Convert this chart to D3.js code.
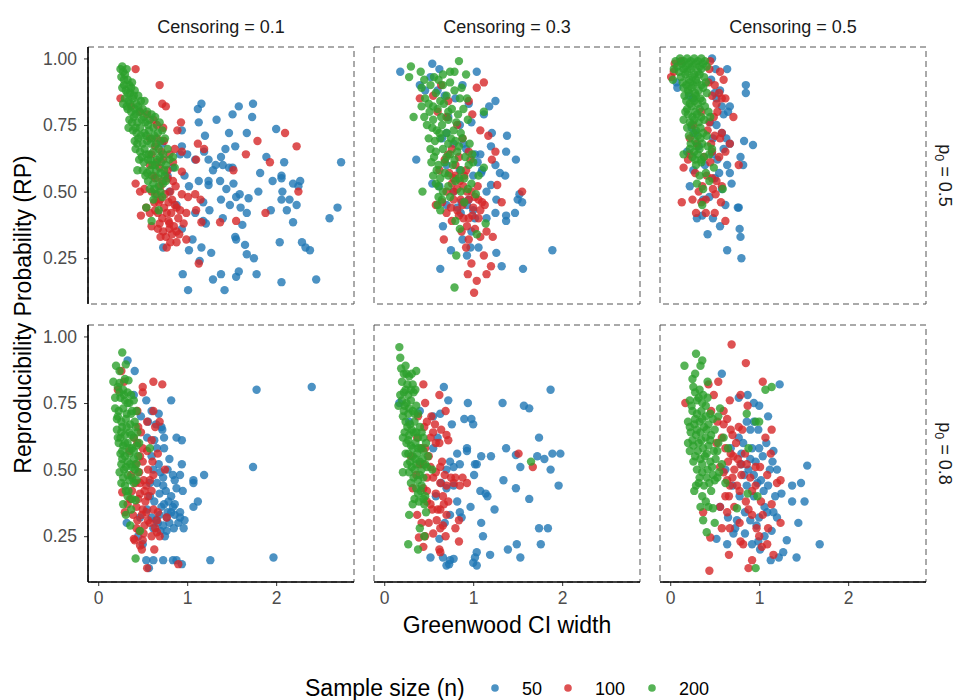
<!DOCTYPE html>
<html>
<head>
<meta charset="utf-8">
<script src="https://cdn.jsdelivr.net/npm/d3@7/dist/d3.min.js"></script>
<style>
  body { margin: 0; background: #fff; }
  text { font-family: "Liberation Sans", Arial, sans-serif; }
</style>
</head>
<body>
<div id="chart-area"></div>
<script>
// facet labels and groups
var censoring = ['0.1', '0.3', '0.5'];
var p0Levels = ['0.5', '0.8'];
var sampleSizes = ['50', '100', '200'];
var xTicks = [0, 1, 2];
var yTicks = [0.25, 0.50, 0.75, 1.00];

// [CI width, RP], one array per panel and sample size
var c1_p5_n50 = [[1.16,0.83],[1.12,0.81],[1.58,0.82],[1.74,0.83],[1.51,0.79],[1.73,0.78],[1.33,0.77],[1.13,0.76],[2.00,0.735],[1.47,0.72],[1.67,0.72],[1.20,0.71],[0.94,0.73],[0.94,0.67],[1.54,0.67],[1.43,0.66],[1.19,0.65],[1.89,0.63],[1.38,0.63],[1.00,0.64],[1.24,0.62],[2.73,0.61],[2.09,0.61],[1.32,0.60],[1.40,0.60],[1.47,0.59],[1.29,0.58],[1.51,0.59],[1.82,0.57],[2.06,0.56],[1.96,0.54],[2.06,0.55],[2.27,0.54],[2.19,0.53],[2.25,0.52],[1.13,0.54],[1.24,0.54],[1.37,0.54],[1.52,0.53],[1.02,0.52],[1.24,0.525],[1.44,0.51],[1.80,0.50],[2.07,0.50],[1.55,0.48],[1.59,0.49],[1.69,0.475],[1.38,0.47],[2.06,0.47],[2.15,0.47],[2.23,0.45],[1.48,0.45],[1.60,0.44],[1.25,0.43],[1.67,0.42],[2.12,0.43],[1.94,0.43],[2.69,0.44],[2.60,0.40],[2.19,0.385],[1.40,0.40],[1.18,0.39],[1.62,0.375],[0.94,0.36],[1.54,0.33],[1.55,0.32],[1.06,0.32],[2.04,0.31],[2.29,0.31],[2.33,0.29],[2.38,0.28],[1.65,0.30],[1.16,0.29],[0.73,0.29],[1.02,0.28],[1.27,0.27],[1.67,0.265],[1.75,0.25],[1.14,0.24],[0.95,0.19],[1.58,0.20],[1.78,0.19],[1.38,0.19],[1.29,0.17],[1.55,0.18],[2.06,0.16],[2.45,0.17],[1.01,0.13],[1.42,0.13],[0.92,0.64],[0.84,0.59],[1.09,0.62],[0.97,0.56],[1.18,0.46],[1.09,0.42],[1.21,0.38],[0.88,0.45],[0.80,0.50],[0.72,0.68],[0.78,0.56]];
var c1_p5_n100 = [[0.42,0.96],[0.69,0.90],[0.25,0.85],[0.72,0.83],[0.76,0.82],[0.93,0.76],[0.89,0.73],[0.73,0.74],[2.10,0.72],[1.79,0.69],[2.23,0.67],[1.12,0.68],[1.19,0.66],[1.66,0.64],[0.86,0.66],[0.94,0.65],[1.10,0.62],[1.93,0.61],[1.52,0.58],[0.94,0.575],[2.25,0.50],[0.42,0.53],[0.52,0.51],[0.84,0.54],[0.94,0.49],[1.01,0.48],[1.09,0.49],[1.15,0.47],[0.83,0.47],[0.54,0.44],[0.63,0.46],[0.88,0.44],[0.92,0.43],[0.99,0.42],[1.10,0.43],[1.88,0.42],[0.48,0.41],[0.67,0.42],[0.79,0.39],[0.96,0.38],[1.16,0.385],[1.37,0.385],[1.55,0.39],[0.67,0.36],[0.80,0.36],[0.83,0.34],[0.91,0.34],[0.99,0.32],[0.88,0.31],[0.77,0.29],[1.13,0.23],[0.37,0.82],[0.47,0.80],[0.55,0.79],[0.62,0.77],[0.66,0.75],[0.58,0.70],[0.66,0.70],[0.74,0.69],[0.64,0.67],[0.71,0.65],[0.80,0.64],[0.58,0.60],[0.69,0.59],[0.78,0.58],[0.84,0.61],[0.64,0.55],[0.78,0.55],[0.70,0.52],[0.87,0.52],[0.60,0.50],[0.75,0.49],[0.68,0.46],[0.74,0.44],[0.82,0.42],[0.72,0.40],[0.85,0.37],[0.76,0.33],[0.58,0.42],[0.47,0.50],[0.60,0.64],[0.66,0.61],[0.73,0.62],[0.62,0.56],[0.72,0.54],[0.81,0.50],[0.66,0.49],[0.70,0.47],[0.79,0.46],[0.86,0.45],[0.64,0.43],[0.77,0.42],[0.69,0.38],[0.80,0.38],[0.73,0.35],[0.88,0.35],[0.81,0.31],[0.70,0.33],[0.90,0.40],[0.60,0.37]];
var c1_p5_n200 = [[0.27,0.97],[0.28,0.95],[0.26,0.93],[0.30,0.94],[0.33,0.92],[0.29,0.90],[0.35,0.90],[0.38,0.91],[0.31,0.88],[0.36,0.87],[0.41,0.88],[0.45,0.86],[0.30,0.85],[0.34,0.84],[0.39,0.85],[0.43,0.83],[0.48,0.84],[0.52,0.84],[0.33,0.81],[0.37,0.80],[0.41,0.81],[0.46,0.80],[0.50,0.81],[0.55,0.80],[0.60,0.79],[0.35,0.77],[0.40,0.78],[0.44,0.76],[0.49,0.77],[0.53,0.76],[0.58,0.77],[0.64,0.78],[0.69,0.76],[0.34,0.74],[0.39,0.73],[0.43,0.72],[0.47,0.74],[0.52,0.72],[0.57,0.73],[0.62,0.74],[0.67,0.72],[0.72,0.73],[0.41,0.69],[0.45,0.70],[0.50,0.68],[0.55,0.69],[0.60,0.70],[0.65,0.68],[0.70,0.69],[0.75,0.70],[0.42,0.66],[0.47,0.65],[0.52,0.66],[0.57,0.64],[0.62,0.65],[0.68,0.66],[0.73,0.64],[0.78,0.66],[0.46,0.62],[0.51,0.61],[0.56,0.62],[0.61,0.60],[0.66,0.62],[0.71,0.61],[0.76,0.60],[0.84,0.63],[0.86,0.59],[0.50,0.58],[0.55,0.57],[0.60,0.56],[0.65,0.58],[0.70,0.57],[0.75,0.56],[0.56,0.54],[0.62,0.53],[0.68,0.52],[0.73,0.53],[0.58,0.51],[0.64,0.49],[0.70,0.50],[0.72,0.48],[0.62,0.47],[0.54,0.44],[0.60,0.39],[0.68,0.43],[0.53,0.56],[0.44,0.58],[0.25,0.96],[0.29,0.92],[0.32,0.96],[0.27,0.89],[0.33,0.87],[0.37,0.89],[0.40,0.86],[0.28,0.83],[0.32,0.82],[0.36,0.83],[0.42,0.79],[0.38,0.76],[0.45,0.82],[0.51,0.78],[0.56,0.75],[0.42,0.74],[0.48,0.71],[0.54,0.71],[0.59,0.68],[0.63,0.71],[0.44,0.68],[0.49,0.63],[0.54,0.64],[0.59,0.62],[0.64,0.60],[0.69,0.63],[0.74,0.58],[0.58,0.58],[0.67,0.55],[0.63,0.51],[0.76,0.54],[0.80,0.62]];

var c3_p5_n50 = [[0.18,0.95],[0.54,0.98],[0.62,0.96],[1.04,0.95],[0.46,0.88],[1.25,0.84],[1.18,0.82],[1.12,0.79],[1.21,0.72],[1.38,0.71],[1.20,0.67],[1.37,0.65],[1.48,0.62],[0.36,0.62],[1.25,0.60],[1.30,0.57],[1.36,0.56],[1.09,0.57],[1.20,0.525],[1.15,0.50],[1.50,0.47],[1.55,0.46],[1.52,0.49],[1.26,0.47],[1.47,0.42],[1.37,0.41],[1.25,0.42],[1.37,0.39],[1.15,0.40],[0.54,0.53],[0.66,0.37],[0.88,0.32],[0.75,0.28],[0.97,0.29],[1.06,0.29],[1.26,0.27],[1.89,0.28],[0.63,0.21],[1.32,0.22],[1.56,0.21],[0.87,0.46],[0.93,0.45],[0.82,0.44],[1.00,0.43],[1.02,0.40],[0.86,0.42],[1.10,0.58],[1.05,0.61],[1.08,0.64],[0.89,0.68],[0.70,0.72],[0.40,0.90],[0.52,0.93],[0.60,0.88],[0.68,0.86],[0.80,0.85],[0.88,0.90],[0.95,0.83],[0.72,0.78],[0.85,0.75],[0.98,0.76],[0.65,0.70],[0.78,0.68],[0.92,0.66],[1.02,0.64],[0.70,0.60],[0.85,0.58],[1.00,0.56],[0.62,0.52],[0.78,0.50],[0.95,0.47],[0.70,0.45],[0.98,0.35],[0.93,0.26]];
var c3_p5_n100 = [[1.12,0.91],[1.04,0.89],[0.40,0.85],[0.72,0.84],[0.95,0.84],[0.99,0.79],[1.08,0.73],[1.17,0.71],[1.25,0.65],[1.21,0.62],[0.95,0.65],[0.97,0.62],[0.73,0.57],[0.80,0.56],[0.85,0.54],[0.89,0.52],[0.93,0.50],[0.98,0.50],[1.02,0.48],[1.06,0.47],[1.10,0.46],[1.13,0.45],[1.27,0.525],[1.55,0.50],[1.32,0.46],[0.58,0.45],[0.65,0.46],[0.70,0.42],[0.82,0.43],[0.89,0.40],[0.95,0.40],[1.06,0.40],[0.93,0.37],[1.02,0.36],[1.15,0.35],[1.22,0.33],[0.67,0.32],[0.95,0.32],[1.12,0.26],[0.98,0.23],[1.20,0.22],[1.15,0.19],[0.94,0.19],[1.04,0.165],[1.01,0.12],[0.60,0.80],[0.70,0.78],[0.82,0.75],[0.88,0.70],[0.76,0.66],[0.84,0.63],[0.68,0.62],[0.62,0.58],[0.78,0.50],[0.86,0.47],[0.76,0.53],[0.55,0.86],[0.64,0.90],[0.72,0.64],[0.80,0.60],[0.92,0.58],[0.78,0.55],[0.90,0.56],[0.82,0.51],[0.95,0.47],[0.88,0.45],[1.00,0.44],[0.75,0.44],[0.84,0.41],[0.99,0.41],[1.08,0.43],[0.76,0.39],[0.87,0.35],[1.08,0.33],[0.78,0.47],[0.70,0.50],[1.05,0.52],[0.92,0.29]];
var c3_p5_n200 = [[0.84,0.99],[0.30,0.97],[0.41,0.95],[0.28,0.93],[0.74,0.95],[0.79,0.95],[0.92,0.94],[0.61,0.92],[0.56,0.93],[0.66,0.94],[0.42,0.89],[0.87,0.89],[0.66,0.90],[0.79,0.88],[0.70,0.86],[0.85,0.85],[0.93,0.85],[0.63,0.84],[0.50,0.83],[0.42,0.82],[0.51,0.80],[0.60,0.81],[0.67,0.83],[0.76,0.81],[0.89,0.81],[0.33,0.78],[1.12,0.80],[0.45,0.78],[0.55,0.77],[0.64,0.78],[0.72,0.77],[0.81,0.76],[0.94,0.77],[0.54,0.74],[0.59,0.73],[0.65,0.75],[0.70,0.72],[0.78,0.73],[0.86,0.72],[0.50,0.70],[0.57,0.69],[0.63,0.70],[0.72,0.68],[0.80,0.69],[0.88,0.70],[0.96,0.68],[0.52,0.66],[0.58,0.65],[0.66,0.66],[0.74,0.64],[0.82,0.65],[0.91,0.63],[0.99,0.64],[0.53,0.61],[0.61,0.60],[0.68,0.61],[0.77,0.60],[0.86,0.58],[1.00,0.61],[1.12,0.59],[0.55,0.56],[0.63,0.55],[0.72,0.56],[0.80,0.54],[0.90,0.55],[0.98,0.53],[0.43,0.50],[0.61,0.52],[0.66,0.50],[0.94,0.51],[0.61,0.48],[0.60,0.45],[0.63,0.43],[0.80,0.39],[0.85,0.36],[1.04,0.34],[1.14,0.38],[0.81,0.26],[0.79,0.14],[1.03,0.49],[0.74,0.48],[0.45,0.92],[0.52,0.90],[0.58,0.87],[0.74,0.91],[0.46,0.85],[0.55,0.82],[0.72,0.80],[0.83,0.79],[0.48,0.75],[0.62,0.72],[0.75,0.70],[0.84,0.67],[0.56,0.63],[0.70,0.63],[0.79,0.62],[0.95,0.60],[0.59,0.58],[0.68,0.57],[0.84,0.55],[0.58,0.53],[0.72,0.52],[0.86,0.50],[0.65,0.47],[0.90,0.46],[1.06,0.56]];

var c5_p5_n50 = [[0.64,0.96],[0.85,0.90],[0.85,0.87],[0.67,0.82],[0.60,0.79],[0.65,0.80],[0.83,0.69],[0.93,0.675],[0.63,0.70],[0.67,0.68],[0.79,0.63],[0.82,0.60],[0.64,0.60],[0.67,0.57],[0.69,0.53],[0.58,0.51],[0.22,0.52],[0.76,0.44],[0.77,0.44],[0.56,0.37],[0.78,0.36],[0.79,0.33],[0.42,0.34],[0.64,0.28],[0.80,0.25],[0.37,0.47],[0.36,0.41],[0.07,0.91],[0.08,0.89],[0.21,0.86],[0.26,0.85],[0.52,0.85],[0.56,0.88],[0.51,0.96],[0.47,1.00],[0.24,0.74],[0.28,0.72],[0.45,0.76],[0.52,0.75],[0.58,0.72],[0.19,0.65],[0.32,0.67],[0.47,0.64],[0.53,0.62],[0.39,0.60],[0.26,0.58],[0.55,0.57],[0.46,0.92],[0.50,0.87],[0.58,0.82],[0.48,0.70],[0.60,0.66],[0.50,0.55],[0.44,0.48],[0.62,0.45],[0.30,0.40],[0.48,0.40]];
var c5_p5_n100 = [[0.01,0.93],[0.04,0.95],[0.44,0.96],[0.56,0.95],[0.60,0.92],[0.55,0.87],[0.58,0.85],[0.62,0.85],[0.71,0.78],[0.26,0.75],[0.49,0.78],[0.58,0.72],[0.22,0.70],[0.56,0.70],[0.67,0.68],[0.15,0.59],[0.28,0.57],[0.77,0.60],[0.47,0.55],[0.52,0.54],[0.36,0.52],[0.58,0.52],[0.13,0.46],[0.32,0.50],[0.51,0.49],[0.29,0.42],[0.40,0.42],[0.50,0.42],[0.62,0.39],[0.62,0.65],[0.38,0.63],[0.45,0.61],[0.05,0.98],[0.12,0.99],[0.45,0.99],[0.50,0.90],[0.30,0.68],[0.42,0.73],[0.40,0.47],[0.25,0.47],[0.47,0.65],[0.20,0.62],[0.53,0.80],[0.35,0.80],[0.43,0.91],[0.47,0.86],[0.52,0.83],[0.44,0.76],[0.50,0.71],[0.46,0.68],[0.55,0.63],[0.41,0.56],[0.48,0.51],[0.35,0.46],[0.57,0.46],[0.22,0.64]];
var c5_p5_n200 = [[0.06,0.99],[0.11,1.00],[0.15,0.99],[0.19,1.00],[0.23,0.99],[0.27,1.00],[0.31,0.99],[0.35,1.00],[0.39,0.99],[0.08,0.97],[0.13,0.98],[0.17,0.97],[0.21,0.98],[0.25,0.97],[0.29,0.98],[0.33,0.97],[0.37,0.98],[0.41,0.97],[0.04,0.96],[0.10,0.95],[0.15,0.96],[0.19,0.95],[0.23,0.96],[0.27,0.94],[0.31,0.95],[0.35,0.96],[0.12,0.93],[0.17,0.94],[0.21,0.92],[0.25,0.93],[0.29,0.92],[0.33,0.94],[0.38,0.93],[0.03,0.92],[0.14,0.91],[0.18,0.90],[0.22,0.91],[0.26,0.90],[0.30,0.91],[0.35,0.90],[0.40,0.91],[0.15,0.89],[0.20,0.88],[0.24,0.89],[0.28,0.87],[0.32,0.88],[0.37,0.89],[0.16,0.86],[0.21,0.87],[0.25,0.85],[0.29,0.86],[0.34,0.85],[0.41,0.87],[0.18,0.84],[0.22,0.83],[0.27,0.84],[0.31,0.83],[0.36,0.84],[0.19,0.81],[0.24,0.82],[0.28,0.80],[0.33,0.81],[0.39,0.82],[0.20,0.79],[0.25,0.78],[0.30,0.79],[0.35,0.78],[0.43,0.80],[0.17,0.80],[0.22,0.76],[0.27,0.77],[0.32,0.76],[0.38,0.77],[0.19,0.74],[0.24,0.75],[0.29,0.73],[0.34,0.74],[0.45,0.78],[0.15,0.77],[0.26,0.72],[0.31,0.71],[0.37,0.72],[0.21,0.71],[0.28,0.69],[0.34,0.70],[0.41,0.71],[0.23,0.68],[0.30,0.67],[0.36,0.68],[0.22,0.66],[0.27,0.65],[0.33,0.66],[0.42,0.67],[0.25,0.63],[0.31,0.64],[0.38,0.63],[0.47,0.66],[0.28,0.62],[0.35,0.61],[0.44,0.64],[0.15,0.64],[0.29,0.60],[0.49,0.59],[0.35,0.62],[0.30,0.53],[0.44,0.54],[0.37,0.51],[0.59,0.51],[0.36,0.45],[0.40,0.57],[0.33,0.56]];

var c1_p8_n50 = [[0.33,0.91],[0.41,0.87],[1.78,0.80],[2.40,0.81],[0.82,0.76],[0.54,0.76],[0.60,0.72],[0.68,0.71],[0.65,0.67],[0.71,0.66],[0.72,0.65],[0.74,0.62],[0.88,0.62],[0.94,0.61],[0.74,0.58],[0.66,0.58],[0.94,0.52],[1.74,0.51],[1.19,0.48],[1.07,0.46],[1.07,0.45],[0.92,0.48],[0.84,0.48],[0.73,0.47],[0.88,0.43],[0.95,0.42],[0.73,0.44],[0.79,0.38],[1.12,0.38],[1.07,0.36],[0.84,0.36],[0.92,0.34],[0.86,0.33],[0.77,0.32],[0.69,0.33],[0.65,0.31],[0.80,0.30],[0.92,0.32],[0.97,0.31],[0.96,0.28],[0.75,0.25],[0.32,0.30],[0.47,0.32],[0.54,0.16],[0.62,0.16],[0.73,0.16],[0.84,0.16],[0.88,0.16],[0.94,0.145],[1.26,0.16],[1.97,0.17],[0.57,0.13],[0.60,0.55],[0.62,0.50],[0.66,0.45],[0.58,0.40],[0.55,0.35],[0.62,0.28],[0.70,0.27],[0.45,0.25],[0.50,0.22],[0.55,0.62],[0.80,0.54],[0.68,0.52],[0.82,0.34],[0.74,0.37],[0.40,0.78],[0.48,0.70],[0.58,0.45],[0.63,0.38],[0.69,0.41],[0.76,0.42],[0.82,0.40],[0.71,0.36],[0.78,0.34],[0.86,0.37],[0.90,0.30],[0.67,0.30],[0.73,0.29],[0.85,0.28],[0.77,0.27],[0.60,0.32],[0.70,0.49],[0.78,0.50],[0.86,0.46],[0.63,0.61],[0.56,0.68]];
var c1_p8_n100 = [[0.26,0.87],[0.62,0.83],[0.72,0.82],[0.50,0.81],[0.50,0.79],[0.22,0.80],[0.29,0.83],[0.62,0.72],[0.69,0.68],[0.64,0.66],[0.60,0.61],[0.75,0.50],[0.67,0.56],[0.61,0.53],[0.56,0.50],[0.62,0.48],[0.51,0.46],[0.54,0.44],[0.47,0.41],[0.27,0.415],[0.36,0.39],[0.43,0.36],[0.50,0.35],[0.54,0.34],[0.62,0.35],[0.67,0.34],[0.77,0.32],[0.64,0.28],[0.66,0.265],[0.69,0.25],[0.41,0.235],[0.50,0.235],[0.40,0.24],[0.47,0.215],[0.49,0.20],[0.63,0.20],[0.55,0.13],[0.90,0.145],[0.44,0.31],[0.52,0.29],[0.47,0.55],[0.42,0.52],[0.50,0.58],[0.40,0.62],[0.45,0.66],[0.44,0.72],[0.37,0.48],[0.33,0.37],[0.30,0.34],[0.56,0.40],[0.58,0.30],[0.46,0.27],[0.42,0.45],[0.35,0.57],[0.55,0.68],[0.48,0.64],[0.44,0.60],[0.50,0.53],[0.55,0.57],[0.46,0.49],[0.52,0.42],[0.58,0.46],[0.45,0.39],[0.49,0.33],[0.56,0.31],[0.43,0.28],[0.51,0.26],[0.60,0.25],[0.39,0.33],[0.47,0.45],[0.53,0.38],[0.60,0.42],[0.38,0.42],[0.66,0.31]];
var c1_p8_n200 = [[0.27,0.94],[0.20,0.89],[0.31,0.895],[0.24,0.87],[0.17,0.83],[0.24,0.825],[0.30,0.84],[0.34,0.835],[0.22,0.81],[0.28,0.80],[0.33,0.79],[0.37,0.78],[0.25,0.77],[0.30,0.76],[0.35,0.75],[0.40,0.76],[0.19,0.73],[0.23,0.72],[0.28,0.73],[0.32,0.71],[0.38,0.72],[0.43,0.72],[0.21,0.69],[0.26,0.68],[0.31,0.69],[0.36,0.67],[0.41,0.68],[0.21,0.65],[0.26,0.64],[0.30,0.63],[0.35,0.64],[0.40,0.62],[0.44,0.64],[0.23,0.60],[0.28,0.59],[0.33,0.60],[0.38,0.58],[0.43,0.59],[0.58,0.58],[0.25,0.56],[0.30,0.55],[0.35,0.56],[0.40,0.54],[0.45,0.55],[0.26,0.52],[0.31,0.51],[0.36,0.52],[0.41,0.50],[0.24,0.49],[0.28,0.47],[0.33,0.48],[0.38,0.47],[0.43,0.46],[0.30,0.44],[0.34,0.42],[0.28,0.37],[0.33,0.40],[0.38,0.39],[0.42,0.385],[0.37,0.35],[0.36,0.29],[0.47,0.27],[0.42,0.166],[0.31,0.33],[0.27,0.57],[0.22,0.62],[0.46,0.60],[0.19,0.77],[0.24,0.79],[0.29,0.78],[0.33,0.75],[0.37,0.71],[0.22,0.70],[0.27,0.66],[0.32,0.66],[0.37,0.63],[0.42,0.66],[0.25,0.62],[0.30,0.60],[0.35,0.58],[0.40,0.57],[0.27,0.54],[0.33,0.53],[0.38,0.51],[0.43,0.52],[0.29,0.50],[0.35,0.46],[0.40,0.45],[0.31,0.42],[0.26,0.45],[0.45,0.49]];

var c3_p8_n50 = [[1.87,0.80],[1.33,0.75],[1.57,0.74],[1.63,0.73],[0.94,0.75],[0.72,0.76],[0.67,0.81],[0.17,0.75],[0.90,0.69],[0.98,0.69],[1.00,0.67],[0.76,0.67],[0.63,0.71],[1.74,0.62],[1.37,0.58],[1.89,0.56],[1.98,0.56],[1.72,0.55],[1.80,0.54],[1.53,0.51],[1.87,0.50],[1.48,0.555],[1.20,0.55],[1.09,0.55],[1.02,0.52],[1.04,0.52],[0.93,0.58],[0.93,0.57],[0.82,0.56],[0.74,0.53],[0.78,0.51],[0.85,0.52],[0.70,0.50],[1.01,0.48],[1.34,0.46],[1.48,0.43],[1.96,0.44],[1.63,0.39],[1.14,0.41],[1.16,0.40],[1.08,0.42],[1.24,0.35],[0.97,0.36],[0.82,0.38],[0.85,0.34],[0.74,0.33],[0.87,0.32],[1.09,0.30],[1.74,0.28],[1.84,0.28],[1.11,0.25],[1.76,0.22],[1.49,0.22],[1.39,0.20],[1.19,0.18],[1.53,0.17],[1.04,0.19],[1.02,0.17],[1.00,0.15],[1.04,0.14],[0.74,0.16],[0.78,0.165],[0.66,0.17],[0.52,0.17],[0.70,0.14],[0.73,0.145],[0.60,0.62],[0.55,0.58],[0.64,0.45],[0.58,0.40],[0.70,0.43],[0.78,0.44],[0.68,0.30],[0.62,0.24],[0.28,0.68],[0.40,0.72],[0.55,0.70]];
var c3_p8_n100 = [[0.44,0.82],[0.62,0.78],[0.69,0.72],[0.53,0.70],[0.57,0.67],[0.64,0.65],[0.70,0.63],[0.72,0.61],[0.52,0.62],[1.51,0.56],[1.67,0.51],[0.65,0.53],[0.63,0.51],[0.55,0.47],[0.63,0.45],[0.70,0.44],[0.78,0.45],[0.85,0.44],[0.93,0.45],[0.48,0.42],[0.44,0.43],[0.32,0.43],[0.67,0.37],[0.72,0.38],[0.63,0.35],[0.54,0.35],[0.37,0.33],[0.84,0.31],[0.59,0.31],[0.63,0.28],[0.80,0.28],[0.39,0.245],[0.46,0.25],[0.69,0.25],[0.84,0.23],[0.44,0.21],[0.62,0.20],[0.63,0.19],[0.37,0.62],[0.42,0.58],[0.45,0.66],[0.40,0.52],[0.36,0.48],[0.50,0.55],[0.58,0.60],[0.46,0.75],[0.38,0.70],[0.30,0.55],[0.48,0.38],[0.42,0.30],[0.48,0.68],[0.55,0.64],[0.62,0.60],[0.46,0.58],[0.52,0.51],[0.58,0.49],[0.68,0.48],[0.75,0.47],[0.48,0.47],[0.58,0.41],[0.66,0.40],[0.52,0.37],[0.60,0.35],[0.70,0.33],[0.50,0.30],[0.66,0.29],[0.55,0.26],[0.80,0.47],[0.88,0.47],[0.44,0.52]];
var c3_p8_n200 = [[0.17,0.96],[0.18,0.92],[0.24,0.89],[0.36,0.87],[0.22,0.86],[0.28,0.85],[0.20,0.83],[0.26,0.82],[0.32,0.82],[0.22,0.79],[0.27,0.78],[0.33,0.79],[0.20,0.76],[0.25,0.75],[0.30,0.76],[0.36,0.74],[0.22,0.72],[0.27,0.71],[0.32,0.72],[0.38,0.71],[0.24,0.68],[0.29,0.67],[0.34,0.68],[0.40,0.66],[0.23,0.64],[0.28,0.63],[0.33,0.64],[0.38,0.62],[0.44,0.62],[0.25,0.60],[0.30,0.59],[0.35,0.60],[0.41,0.58],[0.47,0.60],[0.27,0.56],[0.32,0.55],[0.37,0.56],[0.43,0.54],[0.49,0.55],[0.26,0.52],[0.31,0.51],[0.36,0.52],[0.42,0.50],[0.48,0.51],[0.54,0.50],[0.21,0.49],[0.33,0.47],[0.38,0.46],[0.44,0.47],[0.36,0.43],[0.41,0.42],[0.46,0.40],[0.39,0.38],[0.45,0.37],[0.47,0.34],[1.65,0.53],[0.28,0.33],[0.32,0.37],[0.40,0.28],[0.45,0.25],[0.27,0.22],[0.38,0.20],[0.30,0.80],[0.16,0.74],[0.19,0.88],[0.25,0.86],[0.31,0.86],[0.24,0.80],[0.35,0.80],[0.18,0.78],[0.23,0.74],[0.28,0.73],[0.34,0.71],[0.21,0.70],[0.26,0.66],[0.31,0.65],[0.36,0.64],[0.42,0.64],[0.21,0.62],[0.27,0.61],[0.32,0.58],[0.38,0.58],[0.44,0.57],[0.24,0.56],[0.29,0.53],[0.35,0.54],[0.40,0.53],[0.46,0.52],[0.28,0.49],[0.34,0.50],[0.40,0.48],[0.30,0.45],[0.42,0.44],[0.38,0.41],[0.44,0.39],[0.34,0.39]];

var c5_p8_n50 = [[0.58,0.86],[1.23,0.82],[0.77,0.77],[0.87,0.78],[0.94,0.75],[1.00,0.74],[1.10,0.70],[0.94,0.68],[0.86,0.68],[0.90,0.65],[0.99,0.65],[0.77,0.62],[1.16,0.57],[1.04,0.55],[0.90,0.54],[0.96,0.53],[0.88,0.50],[0.94,0.48],[0.83,0.48],[1.54,0.515],[1.15,0.53],[1.12,0.50],[1.37,0.44],[1.47,0.45],[1.25,0.41],[1.37,0.38],[1.51,0.38],[1.09,0.34],[1.16,0.34],[1.20,0.32],[0.84,0.34],[0.90,0.31],[0.97,0.29],[1.44,0.30],[0.75,0.31],[0.73,0.28],[0.71,0.26],[1.31,0.235],[1.68,0.22],[1.27,0.19],[1.42,0.17],[0.64,0.22],[0.52,0.24],[0.99,0.23],[1.01,0.20],[1.13,0.16],[1.22,0.17],[0.78,0.40],[0.70,0.44],[0.62,0.50],[1.05,0.42],[0.98,0.45],[0.80,0.56],[0.68,0.58],[1.08,0.60],[0.56,0.36],[0.65,0.32],[0.82,0.60],[0.92,0.58],[1.00,0.58],[0.86,0.44],[0.94,0.40],[1.02,0.46],[1.10,0.44],[1.18,0.40],[1.06,0.36],[1.00,0.32],[1.14,0.27],[1.06,0.25],[0.84,0.26],[0.80,0.52],[1.20,0.50],[0.92,0.22]];
var c5_p8_n100 = [[0.69,0.97],[0.85,0.90],[1.04,0.83],[0.54,0.83],[0.43,0.82],[0.49,0.78],[0.79,0.78],[0.67,0.76],[0.87,0.74],[0.17,0.75],[0.53,0.68],[0.64,0.69],[0.68,0.65],[0.77,0.66],[0.81,0.65],[1.14,0.65],[1.07,0.62],[1.13,0.56],[0.68,0.56],[0.71,0.55],[0.79,0.52],[0.86,0.52],[0.96,0.51],[1.01,0.51],[1.09,0.48],[1.20,0.45],[1.24,0.46],[0.64,0.46],[0.67,0.44],[0.75,0.44],[0.56,0.51],[1.14,0.37],[0.92,0.33],[0.97,0.28],[1.10,0.28],[1.24,0.30],[0.37,0.34],[0.56,0.36],[0.64,0.34],[0.58,0.28],[0.67,0.28],[0.45,0.245],[0.79,0.23],[0.82,0.22],[1.03,0.21],[1.09,0.22],[1.16,0.18],[0.66,0.18],[0.92,0.16],[0.88,0.13],[0.44,0.12],[0.52,0.60],[0.58,0.62],[0.46,0.72],[0.60,0.72],[0.92,0.42],[0.85,0.38],[1.02,0.38],[0.72,0.50],[0.60,0.67],[0.70,0.63],[0.62,0.58],[0.74,0.60],[0.65,0.53],[0.76,0.54],[0.84,0.56],[0.60,0.49],[0.70,0.47],[0.80,0.48],[0.90,0.47],[0.66,0.40],[0.78,0.42],[0.96,0.44],[0.72,0.36],[0.88,0.35],[1.04,0.33],[0.78,0.30],[0.62,0.40],[1.00,0.25]];
var c5_p8_n200 = [[0.29,0.935],[0.36,0.91],[0.34,0.89],[0.16,0.89],[0.28,0.86],[0.25,0.84],[0.42,0.83],[1.14,0.81],[1.07,0.80],[0.28,0.79],[0.33,0.80],[0.37,0.78],[0.22,0.76],[0.30,0.76],[0.36,0.75],[0.42,0.77],[0.56,0.73],[0.25,0.72],[0.30,0.71],[0.35,0.72],[0.40,0.70],[0.45,0.71],[0.54,0.70],[0.86,0.71],[0.20,0.68],[0.27,0.67],[0.33,0.68],[0.38,0.66],[0.43,0.67],[0.96,0.68],[1.00,0.68],[0.23,0.64],[0.29,0.63],[0.34,0.64],[0.40,0.62],[0.46,0.63],[0.60,0.62],[0.20,0.60],[0.26,0.59],[0.32,0.60],[0.37,0.58],[0.43,0.59],[0.49,0.57],[0.65,0.58],[0.88,0.58],[0.28,0.55],[0.34,0.54],[0.39,0.55],[0.45,0.53],[0.51,0.54],[0.30,0.50],[0.36,0.49],[0.42,0.50],[0.48,0.48],[0.55,0.49],[0.32,0.45],[0.38,0.44],[0.44,0.45],[0.50,0.46],[0.27,0.42],[0.36,0.40],[0.87,0.41],[0.98,0.40],[0.75,0.355],[0.43,0.36],[0.48,0.355],[0.37,0.31],[0.50,0.30],[0.41,0.265],[0.96,0.13],[0.62,0.45],[0.26,0.81],[0.32,0.77],[0.24,0.74],[0.40,0.74],[0.28,0.69],[0.36,0.69],[0.48,0.69],[0.22,0.66],[0.30,0.65],[0.41,0.65],[0.50,0.65],[0.25,0.61],[0.35,0.61],[0.45,0.61],[0.54,0.60],[0.22,0.57],[0.31,0.57],[0.41,0.56],[0.53,0.57],[0.26,0.53],[0.36,0.52],[0.47,0.51],[0.58,0.52],[0.33,0.47],[0.41,0.47],[0.53,0.47],[0.29,0.44],[0.46,0.42],[0.40,0.38],[0.34,0.36]];

// rows (p0) x columns (censoring) x sample size
var panelData = [
  [[c1_p5_n50, c1_p5_n100, c1_p5_n200], [c3_p5_n50, c3_p5_n100, c3_p5_n200], [c5_p5_n50, c5_p5_n100, c5_p5_n200]],
  [[c1_p8_n50, c1_p8_n100, c1_p8_n200], [c3_p8_n50, c3_p8_n100, c3_p8_n200], [c5_p8_n50, c5_p8_n100, c5_p8_n200]]
];

var outerWidth = 955;
var outerHeight = 700;
var panelLeft = [88, 374, 660];
var panelTop = [47, 325];
var panelW = 266;
var panelH = 257;

var svg = d3.select('#chart-area').append('svg')
            .attr('width', outerWidth)
            .attr('height', outerHeight);

var xScale = d3.scaleLinear().domain([-0.115, 2.875]).range([0, panelW]);
var yScale = d3.scaleLinear().domain([0.078, 1.043]).range([panelH, 0]);
var color = d3.scaleOrdinal().domain(sampleSizes).range(['#1f77b4', '#d62728', '#2ca02c']);

panelData.forEach(function(row, r) {
  row.forEach(function(groups, c) {
    var g = svg.append('g')
               .attr('transform', 'translate(' + panelLeft[c] + ',' + panelTop[r] + ')');

    // dashed panel border
    g.append('rect')
     .attr('width', panelW).attr('height', panelH)
     .attr('fill', 'none')
     .attr('stroke', '#555')
     .attr('stroke-width', 1)
     .attr('stroke-dasharray', '6,4');

    groups.forEach(function(pts, k) {
      g.append('g').selectAll('circle')
       .data(pts)
       .enter().append('circle')
       .attr('cx', function(d) { return xScale(d[0]); })
       .attr('cy', function(d) { return yScale(d[1]); })
       .attr('r', 4.2)
       .attr('fill', color(sampleSizes[k]))
       .attr('fill-opacity', 0.8);
    });

    if (c == 0) {
      var yAxisG = g.append('g')
                    .call(d3.axisLeft(yScale).tickValues(yTicks).tickFormat(d3.format('.2f')).tickSizeOuter(0).tickSize(4).tickPadding(7));
      yAxisG.select('.domain').remove();
      yAxisG.selectAll('line').attr('stroke', '#333');
      yAxisG.selectAll('text').attr('fill', '#4d4d4d').style('font-size', '17.5px')
            .style('font-family', '"Liberation Sans", Arial, sans-serif');
      g.append('line').attr('x1', 0).attr('x2', 0).attr('y1', 0).attr('y2', panelH)
       .attr('stroke', '#000').attr('stroke-width', 1.6);
    }
    if (r == 1) {
      var xAxisG = g.append('g')
                    .attr('transform', 'translate(0,' + panelH + ')')
                    .call(d3.axisBottom(xScale).tickValues(xTicks).tickFormat(d3.format('d')).tickSizeOuter(0).tickSize(4).tickPadding(6));
      xAxisG.select('.domain').remove();
      xAxisG.selectAll('line').attr('stroke', '#333');
      xAxisG.selectAll('text').attr('fill', '#4d4d4d').style('font-size', '17.5px')
            .style('font-family', '"Liberation Sans", Arial, sans-serif');
      g.append('line').attr('x1', 0).attr('x2', panelW).attr('y1', panelH).attr('y2', panelH)
       .attr('stroke', '#000').attr('stroke-width', 1.6);
    }
  });
});

// strip labels on top
censoring.forEach(function(cv, c) {
  svg.append('text')
     .attr('x', panelLeft[c] + panelW / 2)
     .attr('y', 33)
     .attr('text-anchor', 'middle')
     .attr('fill', '#1a1a1a')
     .style('font-size', '18px')
     .text('Censoring = ' + cv);
});

// strip labels on the right, rotated
p0Levels.forEach(function(pv, r) {
  var cy = panelTop[r] + panelH / 2;
  var t = svg.append('text')
             .attr('transform', 'translate(939,' + cy + ') rotate(90)')
             .attr('text-anchor', 'middle')
             .attr('fill', '#1a1a1a')
             .style('font-size', '18px');
  t.append('tspan').text('p');
  t.append('tspan').attr('dy', 4).style('font-size', '12.5px').text('0');
  t.append('tspan').attr('dy', -4).text(' = ' + pv);
});

// axis titles
svg.append('text')
   .attr('x', (panelLeft[0] + panelLeft[2] + panelW) / 2)
   .attr('y', 633)
   .attr('text-anchor', 'middle')
   .attr('fill', '#000')
   .style('font-size', '23px')
   .text('Greenwood CI width');

svg.append('text')
   .attr('transform', 'translate(31,' + ((panelTop[0] + panelTop[1] + panelH) / 2) + ') rotate(-90)')
   .attr('text-anchor', 'middle')
   .attr('fill', '#000')
   .style('font-size', '23px')
   .text('Reproducibility Probability (RP)');

// legend
var legendG = svg.append('g').attr('transform', 'translate(305,688)');
legendG.append('text')
       .attr('x', 0).attr('y', 8)
       .attr('fill', '#000')
       .style('font-size', '23px')
       .text('Sample size (n)');
var legendX = [190, 263, 347];
sampleSizes.forEach(function(s, i) {
  legendG.append('circle')
         .attr('cx', legendX[i]).attr('cy', 0).attr('r', 3.8)
         .attr('fill', color(s)).attr('fill-opacity', 0.8);
  legendG.append('text')
         .attr('x', legendX[i] + 27).attr('y', 6.5)
         .attr('fill', '#000')
         .style('font-size', '18px')
         .text(s);
});
</script>
</body>
</html>
